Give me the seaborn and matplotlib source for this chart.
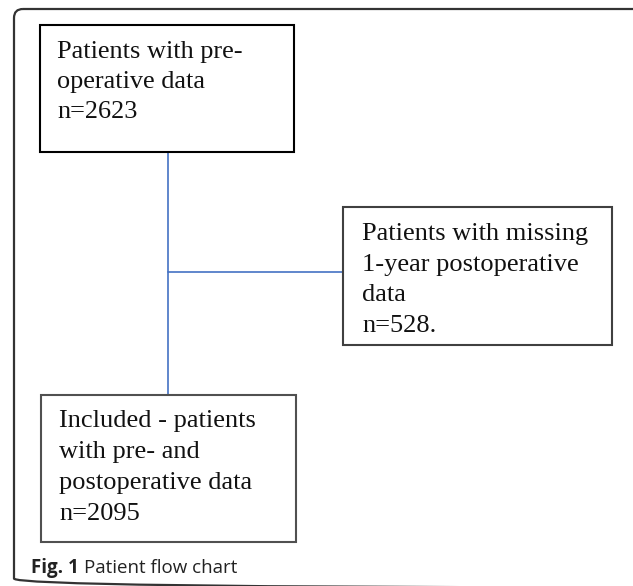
import matplotlib
matplotlib.use("Agg")
from matplotlib import pyplot as plt
from matplotlib.patches import FancyBboxPatch, Rectangle
import seaborn as sns

# flow chart content
box_texts = [
    ["Patients with pre-", "operative data", "n=2623"],
    ["Patients with missing", "1-year postoperative", "data", "n=528."],
    ["Included - patients", "with pre- and", "postoperative data", "n=2095"],
]
caption_bold = "Fig. 1"
caption_text = "Patient flow chart"

# layout in pixels (x0, y0, x1, y1), y grows downward
boxes = [(40, 25, 294, 152), (343, 207, 612, 345), (41, 395, 296, 542)]
box_edge = ["#000000", "#404040", "#505050"]
text_pos = [(57, 58, 30.2, 18.9), (362, 240, 30.7, 19), (59, 427, 31, 19)]

sns.set_style("white")
plt.rcParams['font.family'] = ['Liberation Serif', 'DejaVu Serif']

W, H = 633, 586
fig = plt.figure(figsize=(W / 100, H / 100), dpi=100)
ax = fig.add_axes([0, 0, 1, 1])
ax.set_xlim(0, W)
ax.set_ylim(H, 0)
ax.axis("off")

# outer frame, rounded, running off the right and bottom edges
frame = FancyBboxPatch((14, 9), 660, 578.5, boxstyle="round,pad=0,rounding_size=9",
                       fill=False, edgecolor="#333333", linewidth=1.6)
ax.add_patch(frame)

# connectors
blue = "#4472C4"
vx = 168
sns.lineplot(x=[vx, vx], y=[boxes[0][3], boxes[2][1]], ax=ax, color=blue, linewidth=1.2,
             estimator=None, sort=False)
sns.lineplot(x=[vx, boxes[1][0]], y=[272, 272], ax=ax, color=blue, linewidth=1.2,
             estimator=None, sort=False)

for (x0, y0, x1, y1), ec, (tx, ty, dy, fs), lines in zip(boxes, box_edge, text_pos, box_texts):
    ax.add_patch(Rectangle((x0, y0), x1 - x0, y1 - y0, fill=True, facecolor="white",
                           edgecolor=ec, linewidth=1.5, zorder=3))
    for i, line in enumerate(lines):
        ax.text(tx, ty + i * dy, line, fontsize=fs, va="baseline", ha="left",
                color="#111111", zorder=4)

t = ax.text(31, 573, caption_bold + " ", fontsize=13.5, fontweight="bold", va="baseline",
            ha="left", family=["Open Sans", "DejaVu Sans"], color="#222222")
fig.canvas.draw()
bb = t.get_window_extent().transformed(ax.transData.inverted())
ax.text(bb.x1, 573, caption_text, fontsize=13.5, va="baseline", ha="left",
        family=["Open Sans", "DejaVu Sans"], color="#222222")

fig.savefig("out.png", dpi=100)
